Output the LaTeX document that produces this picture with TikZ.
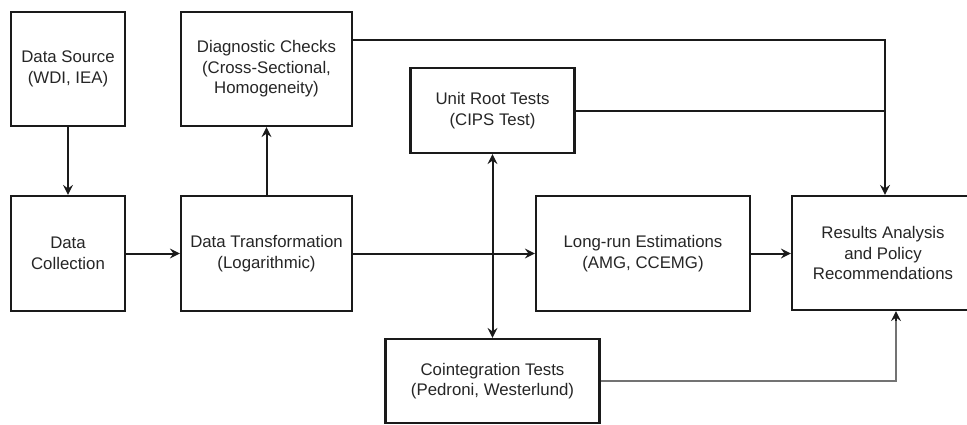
\documentclass[tikz,border=0pt]{standalone}
\usepackage{fontspec}
\setmainfont{Liberation Sans}
\usetikzlibrary{arrows.meta,calc}
\definecolor{txt}{HTML}{262626}
\definecolor{lncol}{HTML}{1A1A1A}
\begin{document}
\begin{tikzpicture}[x=1pt,y=-1pt,
  box/.style={draw=lncol,line width=2.2pt,fill=white,align=center,text=txt,
    font=\fontsize{16.8pt}{20.5pt}\selectfont,inner sep=0pt},
  tip/.style={-{Stealth[length=10pt,width=10pt,inset=3.5pt]}},
  arr/.style={draw=lncol,line width=2pt,tip},
  darr/.style={draw=lncol,line width=2pt,{Stealth[length=10pt,width=10pt,inset=3.5pt]}-{Stealth[length=10pt,width=10pt,inset=3.5pt]}},
  plain/.style={draw=lncol,line width=2pt},
  gline/.style={draw=black!55,line width=2.6pt}]
\useasboundingbox (0,0) rectangle (967,424);
\fill[white] (0,0) rectangle (967,424);

\node[box,minimum width=114pt,minimum height=114pt] (src) at (68,69) {Data Source\\(WDI, IEA)};
\node[box,minimum width=171pt,minimum height=114pt] (diag) at (266.5,69) {Diagnostic Checks\\(Cross-Sectional,\\Homogeneity)};
\node[box,minimum width=114pt,minimum height=115pt] (coll) at (68,253.5) {Data\\Collection};
\node[box,minimum width=171pt,minimum height=115pt] (trans) at (266.5,253.5) {Data Transformation\\(Logarithmic)};
\node[box,minimum width=164pt,minimum height=85pt] (unit) at (492.5,110.5) {Unit Root Tests\\(CIPS Test)};
\node[box,minimum width=214pt,minimum height=115pt] (long) at (643,253.5) {Long-run Estimations\\(AMG, CCEMG)};
\node[box,minimum width=182pt,minimum height=114pt] (res) at (883,253) {Results Analysis\\and Policy\\Recommendations};

\coordinate (v1) at (885,0);
\coordinate (v2) at (896,0);

% connectors
\draw[arr] (src) -- (coll);
\draw[arr] (coll) -- (trans);
\draw[arr] (trans.north) -- (diag.south);
\draw[arr] ($(diag.north east)!0.25!(diag.south east)$) -| (res.north -| v1);
\draw[plain] (unit.east) -- (unit.east -| v1);
\draw[arr] (trans.east) -- (long.west);
\draw[arr] (long.east) -- (long.east -| res.west);

\node[box,minimum width=214pt,minimum height=84pt] (coint) at (492.5,381) {Cointegration Tests\\(Pedroni, Westerlund)};
\draw[darr] (unit.south) -- (coint.north);
\draw[gline] (coint.east) -| ($(res.south -| v2)+(0,9)$);
\draw[arr] ($(res.south -| v2)+(0,10)$) -- (res.south -| v2);
\end{tikzpicture}
\end{document}
